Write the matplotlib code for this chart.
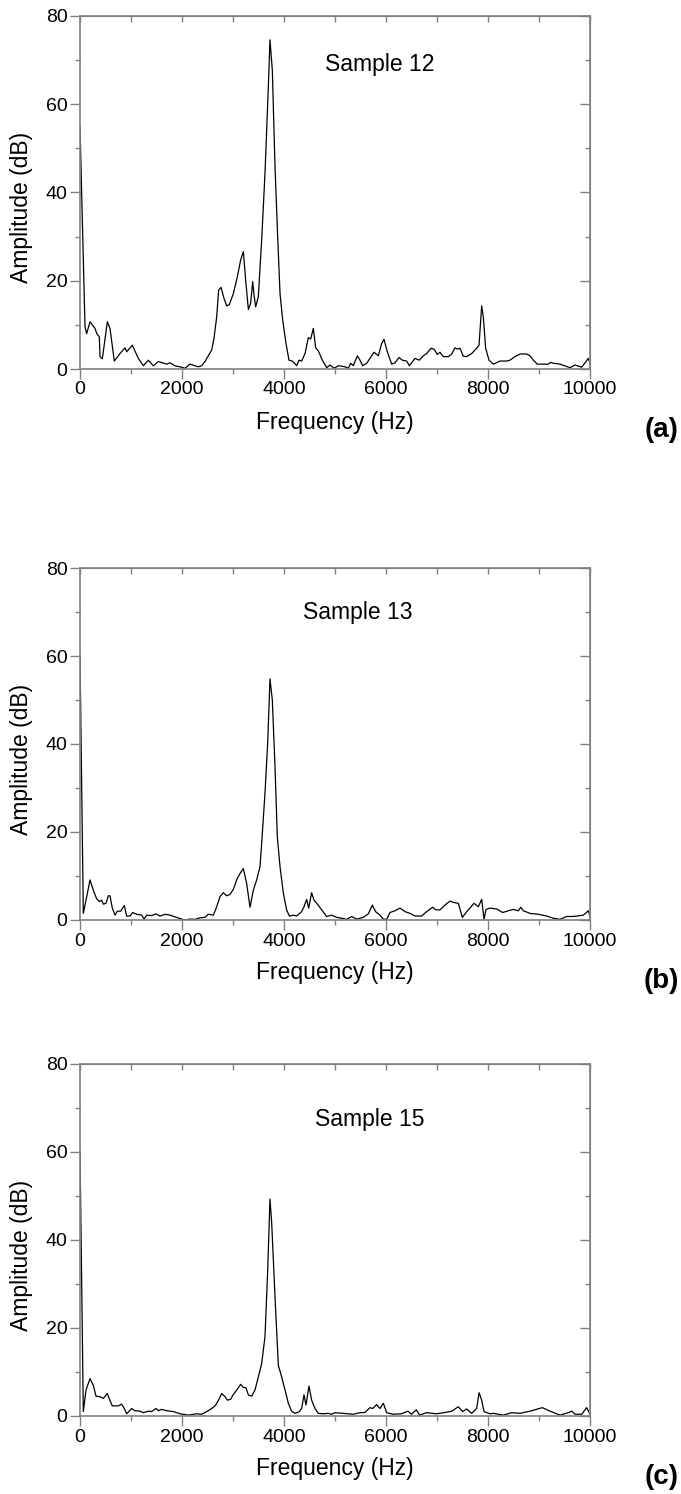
import matplotlib
matplotlib.use("Agg")
import matplotlib.pyplot as plt
import numpy as np

plt.rcParams["font.family"] = ["Liberation Sans", "DejaVu Sans"]

# Sample 12 spectrum
freq_a = [0, 98, 130, 196, 294, 330, 379, 392, 438, 536, 588, 673, 784, 882, 915,
          1026, 1144, 1242, 1340, 1438, 1536, 1699, 1765, 1863, 1961, 2059, 2157,
          2320, 2386, 2451, 2516, 2582, 2627, 2680, 2719, 2765, 2824, 2876, 2928,
          3007, 3085, 3150, 3203, 3248, 3301, 3346, 3386, 3412, 3444, 3497, 3562,
          3627, 3693, 3725, 3771, 3824, 3876, 3922, 3974, 4039, 4098, 4163, 4248,
          4294, 4346, 4412, 4477, 4523, 4575, 4621, 4673, 4752, 4837, 4902, 4987,
          5065, 5196, 5261, 5307, 5359, 5438, 5490, 5542, 5621, 5765, 5850, 5915,
          5961, 6026, 6111, 6176, 6255, 6320, 6405, 6458, 6569, 6654, 6732, 6797,
          6882, 6941, 7007, 7059, 7124, 7222, 7288, 7353, 7399, 7451, 7516, 7582,
          7680, 7778, 7824, 7876, 7908, 7954, 8020, 8105, 8235, 8366, 8431, 8529,
          8627, 8758, 8824, 8889, 8967, 9085, 9183, 9229, 9281, 9412, 9608, 9706,
          9837, 9967, 10000]
amp_a = [55.0, 9.6, 8.0, 10.7, 9.2, 8.0, 7.3, 2.8, 2.3, 10.7, 9.2, 1.8, 3.5, 4.8, 3.9,
         5.4, 2.4, 0.75, 2.0, 0.7, 1.7, 1.1, 1.4, 0.7, 0.5, 0.15, 1.1,
         0.5, 0.75, 1.7, 3.0, 4.3, 6.9, 11.8, 17.9, 18.5, 16.0, 14.3, 14.6,
         17.1, 20.9, 24.7, 26.6, 20.2, 13.5, 14.9, 19.8, 16.8, 14.1, 16.4, 29.2,
         44.3, 63.9, 74.6, 67.7, 45.8, 30.0, 17.1, 11.1, 5.8, 2.0, 1.8, 0.75,
         2.0, 1.8, 3.5, 7.1, 6.8, 9.2, 4.8, 4.1, 2.0, 0.3, 0.9, 0.15,
         0.75, 0.5, 0.15, 1.3, 0.75, 3.0, 2.0, 0.75, 1.3, 3.8, 3.0, 5.8,
         6.7, 3.9, 1.1, 1.4, 2.6, 2.0, 1.8, 0.75, 2.4, 2.0, 3.0, 3.5,
         4.7, 4.5, 3.3, 3.8, 2.8, 2.8, 3.4, 4.8, 4.5, 4.7, 2.9, 2.8,
         3.5, 4.7, 5.4, 14.3, 11.8, 4.7, 2.0, 1.1, 1.8, 1.8, 2.0, 2.8,
         3.4, 3.4, 3.0, 2.0, 1.1, 1.1, 1.1, 1.5, 1.3, 1.1, 0.3, 0.9,
         0.4, 2.4, 1.3]

# Sample 13 spectrum
freq_b = [0, 65, 118, 196, 261, 327, 379, 425, 458, 510, 556, 588, 634, 686, 732,
          797, 869, 915, 980, 1033, 1111, 1209, 1255, 1307, 1405, 1490, 1569, 1667,
          1765, 1895, 1993, 2059, 2157, 2255, 2353, 2451, 2516, 2614, 2680, 2745,
          2810, 2876, 2941, 3007, 3085, 3150, 3203, 3268, 3333, 3399, 3464, 3529,
          3562, 3627, 3680, 3725, 3771, 3824, 3869, 3922, 3987, 4052, 4105, 4183,
          4248, 4346, 4392, 4444, 4484, 4542, 4588, 4641, 4739, 4837, 4935, 5033,
          5131, 5229, 5327, 5425, 5556, 5654, 5732, 5797, 5882, 5948, 6013, 6078,
          6176, 6275, 6373, 6471, 6569, 6699, 6797, 6915, 6980, 7059, 7157, 7255,
          7320, 7418, 7497, 7582, 7647, 7725, 7810, 7876, 7922, 7961, 8039, 8170,
          8288, 8399, 8497, 8595, 8641, 8693, 8824, 8987, 9150, 9281, 9412, 9542,
          9673, 9869, 9967, 10000]
amp_b = [60.0, 1.5, 4.5, 9.1, 6.8, 4.8, 4.2, 4.5, 3.6, 3.8, 5.5, 5.5, 2.7, 1.1, 2.0,
         2.0, 3.3, 0.9, 0.9, 1.7, 1.3, 1.1, 0.2, 1.1, 1.0, 1.4, 0.9, 1.3,
         1.1, 0.6, 0.2, 0.0, 0.2, 0.15, 0.5, 0.6, 1.3, 1.1, 3.0, 5.3,
         6.2, 5.5, 5.8, 7.0, 9.5, 10.8, 11.7, 8.3, 2.9, 6.8, 9.1, 12.1,
         17.4, 28.8, 40.2, 54.8, 50.0, 34.8, 18.9, 12.1, 6.1, 2.3, 0.9, 1.1,
         0.9, 1.9, 3.0, 4.7, 2.7, 6.2, 4.5, 3.8, 2.3, 0.8, 1.1, 0.6,
         0.4, 0.15, 0.8, 0.2, 0.6, 1.4, 3.4, 1.9, 1.1, 0.2, 0.15, 1.7,
         2.1, 2.7, 1.9, 1.5, 0.9, 0.9, 1.9, 2.9, 2.3, 2.3, 3.4, 4.3,
         4.0, 3.8, 0.6, 1.9, 2.7, 3.8, 3.0, 4.7, 0.15, 2.4, 2.7, 2.5,
         1.7, 2.1, 2.4, 2.1, 2.9, 2.1, 1.5, 1.3, 0.9, 0.4, 0.15, 0.8,
         0.8, 1.1, 2.1, 0.8]

# Sample 15 spectrum
freq_c = [0, 65, 118, 196, 261, 314, 392, 458, 536, 588, 634, 752, 817, 869, 915,
          1013, 1078, 1176, 1242, 1340, 1405, 1490, 1536, 1601, 1699, 1830, 1961,
          2124, 2288, 2386, 2484, 2582, 2647, 2712, 2778, 2843, 2889, 2954, 3007,
          3085, 3150, 3203, 3255, 3301, 3366, 3431, 3497, 3562, 3627, 3680, 3725,
          3758, 3824, 3889, 3954, 4020, 4085, 4150, 4216, 4301, 4346, 4392, 4431,
          4490, 4542, 4608, 4673, 4771, 4869, 4935, 5000, 5163, 5359, 5490, 5588,
          5686, 5739, 5817, 5882, 5948, 6013, 6137, 6301, 6431, 6497, 6595, 6660,
          6791, 6993, 7157, 7288, 7418, 7503, 7582, 7680, 7778, 7824, 7876, 7922,
          8039, 8105, 8301, 8464, 8627, 8824, 9065, 9216, 9412, 9575, 9641, 9706,
          9837, 9935, 10000]
amp_c = [60.0, 1.0, 5.9, 8.5, 7.0, 4.5, 4.4, 4.0, 5.1, 3.5, 2.3, 2.3, 2.7, 1.7, 0.5,
         1.7, 1.2, 1.1, 0.75, 1.1, 1.0, 1.7, 1.2, 1.5, 1.2, 1.0, 0.5,
         0.2, 0.5, 0.4, 1.0, 1.7, 2.3, 3.5, 5.1, 4.4, 3.6, 3.8, 4.9,
         6.1, 7.2, 6.5, 6.4, 4.8, 4.5, 5.9, 8.9, 11.9, 18.0, 33.0, 49.3,
         44.0, 27.0, 11.5, 8.9, 5.9, 2.9, 1.1, 0.6, 1.0, 1.7, 4.8, 2.5,
         6.8, 3.6, 1.7, 0.6, 0.5, 0.6, 0.4, 0.75, 0.6, 0.4, 0.75, 0.8,
         1.9, 1.7, 2.6, 1.7, 2.9, 0.75, 0.4, 0.5, 1.1, 0.4, 1.4, 0.2,
         0.75, 0.5, 0.8, 1.1, 2.1, 1.0, 1.6, 0.6, 1.7, 5.3, 3.6, 1.0,
         0.5, 0.6, 0.2, 0.75, 0.6, 1.1, 1.9, 1.1, 0.2, 0.75, 1.1, 0.4,
         0.4, 1.9, 0.4]

series = [
    (freq_a, amp_a, "Sample 12", (4800, 69.0), "(a)"),
    (freq_b, amp_b, "Sample 13", (4370, 69.8), "(b)"),
    (freq_c, amp_c, "Sample 15", (4610, 67.3), "(c)"),
]

W, H = 681, 1494
fig = plt.figure(figsize=(W / 100, H / 100), dpi=100)
# axes boxes in pixels: left, top, right, bottom
boxes = [(80, 16, 590, 369), (80, 568, 590, 920), (80, 1064, 590, 1416)]
grey = "#808080"

for (fx, fy, name, tpos, letter), (l, t, r, b) in zip(series, boxes):
    ax = fig.add_axes([l / W, 1 - b / H, (r - l) / W, (b - t) / H])
    ax.plot(fx, fy, color="black", lw=0.9)
    ax.set_xlim(0, 10000)
    ax.set_ylim(0, 80)
    ax.set_xticks(np.arange(0, 10001, 2000))
    ax.set_xticks(np.arange(0, 10001, 1000), minor=True)
    ax.set_yticks(np.arange(0, 81, 20))
    ax.set_yticks(np.arange(0, 81, 10), minor=True)
    for s in ax.spines.values():
        s.set_color(grey)
        s.set_linewidth(1.2)
    ax.tick_params(which="both", direction="out", color=grey, width=1.0,
                   labelsize=14, labelcolor="black", pad=2)
    ax.tick_params(which="major", length=7)
    ax.tick_params(which="minor", length=3.5)
    # inward ticks on the top and right frame
    top = ax.secondary_xaxis("top")
    top.set_xticks(np.arange(0, 10001, 2000))
    top.set_xticks(np.arange(0, 10001, 1000), minor=True)
    top.tick_params(which="both", direction="in", color=grey, width=1.0,
                    labeltop=False, length=4.5)
    top.spines["top"].set_color(grey)
    right = ax.secondary_yaxis("right")
    right.set_yticks(np.arange(0, 81, 20))
    right.set_yticks(np.arange(0, 81, 10), minor=True)
    right.tick_params(which="major", direction="in", color=grey, width=1.0,
                      labelright=False, length=7)
    right.tick_params(which="minor", direction="in", color=grey, width=1.0,
                      length=3.5)
    right.spines["right"].set_color(grey)

    hpx = b - t
    ax.set_xlabel("Frequency (Hz)", fontsize=16.5)
    ax.xaxis.set_label_coords(0.5, -53 / hpx)
    ax.xaxis.label.set_va("center")
    ax.set_ylabel("Amplitude (dB)", fontsize=16.5)
    ax.yaxis.set_label_coords(-58 / (r - l), 0.5 - 15 / hpx)
    ax.yaxis.label.set_va("center")

    ax.text(tpos[0], tpos[1], name, fontsize=16.5, ha="left", va="center")
    fig.text(679 / W, 1 - (b + 61) / H, letter, fontsize=20, fontweight="bold",
             ha="right", va="center")

fig.savefig("out.png", dpi=100)
